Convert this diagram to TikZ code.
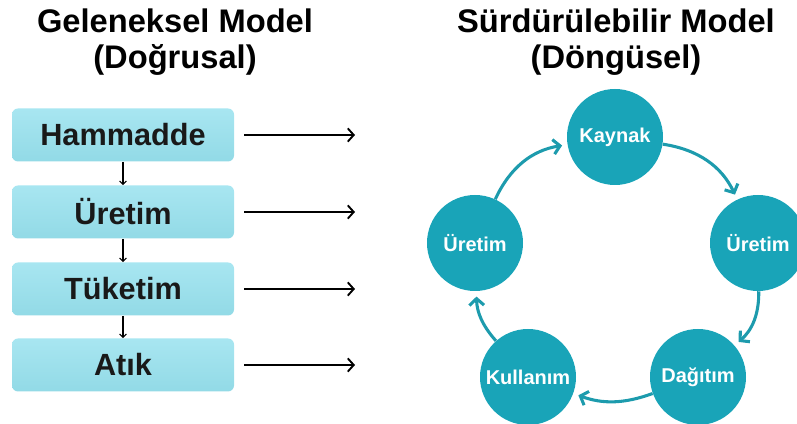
\documentclass[tikz,border=0pt]{standalone}
\usepackage{fontspec}
\setmainfont{Liberation Sans}
\usetikzlibrary{arrows.meta}
\definecolor{boxcyan}{HTML}{A8E6F1}
\definecolor{boxcyandark}{HTML}{92DAE6}
\definecolor{cycleteal}{HTML}{19A4B8}
\definecolor{arrowteal}{HTML}{1D9BAD}
\tikzset{
    title/.style={align=center, font=\fontsize{24.5}{27}\selectfont\bfseries},
    stage/.style={rounded corners=4.5pt, top color=boxcyan, bottom color=boxcyandark,
                  minimum width=166.5pt, minimum height=39.75pt,
                  font=\fontsize{23}{25}\selectfont\bfseries, text=black!90},
    phase/.style={circle, fill=cycleteal, minimum size=72pt, inner sep=0pt,
                  text=white, font=\fontsize{15}{17}\selectfont\bfseries},
    down/.style={-{Straight Barb[length=2.5pt, width=5pt]}, line width=0.9pt},
    outflow/.style={-{Straight Barb[length=4.5pt, width=10pt]}, line width=1.4pt,
                    shorten <=7.5pt},
    cyclearrow/.style={-{Straight Barb[length=5pt, width=11pt]}, line width=2.3pt,
                       draw=arrowteal, shorten >=4pt},
}
\begin{document}
\begin{tikzpicture}[x=0.75pt, y=0.75pt]
    \path[use as bounding box] (0,0) rectangle (797,424);

    % titles
    \node[title] (lefttitle) at (175,382) {Geleneksel Model\\(Doğrusal)};
    \node[title] (righttitle) at (616,382) {Sürdürülebilir Model\\(Döngüsel)};

    % linear model
    \node[stage] (hammadde) at (123,289) {Hammadde};
    \node[stage] (uretim) at (123,212) {Üretim};
    \node[stage] (tuketim) at (123,135) {Tüketim};
    \node[stage] (atik) at (123,59) {Atık};

    \draw[down] (hammadde) -- (uretim);
    \draw[down] (uretim) -- (tuketim);
    \draw[down] (tuketim) -- (atik);

    \coordinate (hammaddeend) at (355,289);
    \coordinate (uretimend) at (355,212);
    \coordinate (tuketimend) at (355,135);
    \coordinate (atikend) at (355,59);
    \draw[outflow] (hammadde) -- (hammaddeend);
    \draw[outflow] (uretim) -- (uretimend);
    \draw[outflow] (tuketim) -- (tuketimend);
    \draw[outflow] (atik) -- (atikend);

    % circular model
    \node[phase] (kaynak) at (615,287) {Kaynak};
    \node[phase] (uretimright) at (758,181) {Üretim};
    \node[phase] (dagitim) at (698,47) {Dağıtım};
    \node[phase] (kullanim) at (528,47) {Kullanım};
    \node[phase] (uretimleft) at (475,181) {Üretim};

    \draw[cyclearrow] (uretimleft) to[bend left=28] (kaynak);
    \draw[cyclearrow] (kaynak) to[bend left=28] (uretimright);
    \draw[cyclearrow] (uretimright) to[bend left=25] (dagitim);
    \draw[cyclearrow] (dagitim) to[bend left=20] (kullanim);
    \draw[cyclearrow] (kullanim) to[bend left=20] (uretimleft);
\end{tikzpicture}
\end{document}
